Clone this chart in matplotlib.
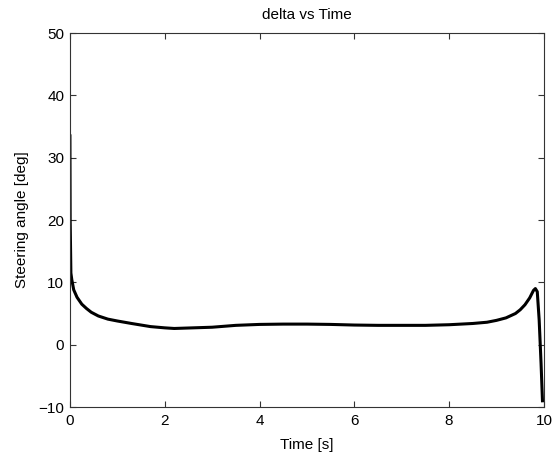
import matplotlib
matplotlib.use("Agg")
import matplotlib.pyplot as plt

t = [0, 0.005, 0.02, 0.04, 0.08, 0.15, 0.25, 0.35, 0.45, 0.6, 0.8, 1.0, 1.3, 1.7, 2.0, 2.2, 2.6,
     3.0, 3.5, 4.0, 4.5, 5.0, 5.5, 6.0, 6.5, 7.0, 7.5, 8.0, 8.5, 8.8, 9.0, 9.2, 9.4, 9.5,
     9.6, 9.7, 9.78, 9.82, 9.86, 9.9, 9.94, 9.97]
delta = [33.5, 20, 11.5, 10.4, 8.8, 7.6, 6.5, 5.8, 5.2, 4.6, 4.1, 3.8, 3.4, 2.9, 2.7, 2.6, 2.7,
         2.8, 3.1, 3.25, 3.3, 3.3, 3.25, 3.15, 3.1, 3.1, 3.1, 3.2, 3.4, 3.6, 3.9, 4.3, 5.0, 5.6,
         6.4, 7.5, 8.7, 9.0, 8.5, 4, -3, -9]

xticks = [0, 2, 4, 6, 8, 10]
yticks = [-10, 0, 10, 20, 30, 40, 50]

plt.rcParams['font.family'] = ['Liberation Sans', 'DejaVu Sans']
fig = plt.figure(figsize=(5.55, 4.54), dpi=100)
ax = fig.add_axes([0.126, 0.1035, 0.854, 0.8238])
ax.plot(t, delta, color='black', linewidth=2.2)
ax.set_xlim(0, 10)
ax.set_ylim(-10, 50)
ax.set_xticks(xticks)
ax.set_yticks(yticks)
ax.tick_params(direction='in', length=4, width=0.8, top=True, right=True,
               labelsize=11, colors='#333333', labelcolor='black')
ax.tick_params(axis='x', pad=5)
ax.tick_params(axis='y', pad=4)
for s in ax.spines.values():
    s.set_color('#333333')
    s.set_linewidth(0.8)
ax.set_xlabel('Time [s]', fontsize=11)
ax.set_ylabel('Steering angle [deg]', fontsize=11)
ax.xaxis.set_label_coords(0.5, -0.082)
ax.yaxis.set_label_coords(-0.086, 0.5)
fig.text(0.5 * (0.126 * 2 + 0.854), 1 - 15 / 454, 'delta vs Time', fontsize=11,
         ha='center', va='center')
fig.savefig('out.png', dpi=100)
